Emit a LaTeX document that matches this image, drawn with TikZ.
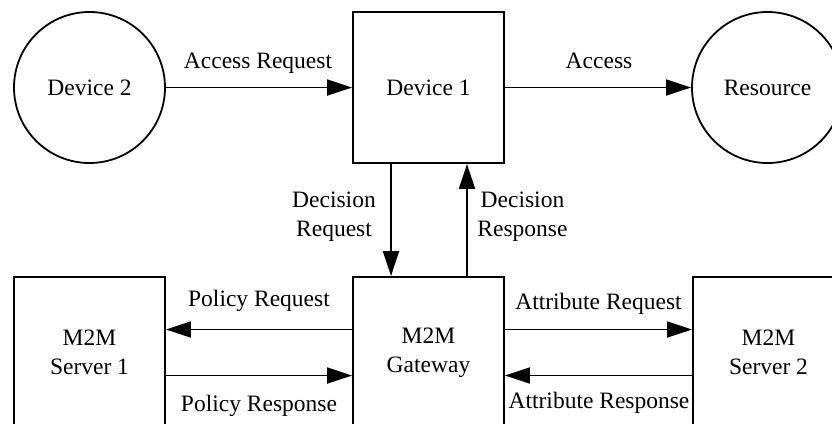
\documentclass[tikz,border=0pt]{standalone}
\usepackage{fontspec}
\setmainfont{Liberation Serif}
\usetikzlibrary{arrows.meta}
\begin{document}
\begin{tikzpicture}[x=1bp,y=-1bp,
  every node/.style={font=\fontsize{23.5bp}{29bp}\selectfont},
  roundnode/.style={draw, circle, line width=1.8bp, minimum size=151bp, inner sep=0pt},
  boxnode/.style={draw, rectangle, line width=1.8bp, minimum width=151bp, minimum height=151bp, inner sep=0pt, align=center},
  conn/.style={line width=1.8bp, -{Triangle[length=25bp,width=16bp]}},
  lbl/.style={inner sep=0pt, anchor=base},
  lbl2/.style={inner sep=0pt, align=center},
]
\useasboundingbox (0,0) rectangle (832,423);
\clip (0,0) rectangle (832,423);

\node[roundnode] (d2) at (89.5,87.5) {Device 2};
\node[boxnode] (d1) at (428.5,87.5) {Device 1};
\node[roundnode] (res) at (767.5,87.5) {Resource};
\node[boxnode] (s1) at (89.5,352.5) {M2M\\Server 1};
\node[boxnode] (gw) at (428.5,352.5) {M2M\\Gateway};
\node[boxnode] (s2) at (768.5,352.5) {M2M\\Server 2};

\draw[conn] (d2) -- (d1);
\draw[conn] (d1) -- (res);
\draw[conn] ([xshift=-37.5bp]d1.south) -- ([xshift=-37.5bp]gw.north);
\draw[conn] ([xshift=38.5bp]gw.north) -- ([xshift=38.5bp]d1.south);
\draw[conn] ([yshift=23bp]gw.west) -- ([yshift=23bp]s1.east);
\draw[conn] ([yshift=-23bp]s1.east) -- ([yshift=-23bp]gw.west);
\draw[conn] ([yshift=23bp]gw.east) -- ([yshift=23bp]s2.west);
\draw[conn] ([yshift=-23bp]s2.west) -- ([yshift=-23bp]gw.east);

\node[lbl] (lar) at (258,68) {Access Request};
\node[lbl] (lac) at (599,68) {Access};
\node[lbl2] (ldq) at (334,217) {Decision\\Request};
\node[lbl2] (lds) at (522.5,217) {Decision\\Response};
\node[lbl] (lpq) at (259,306) {Policy Request};
\node[lbl] (lps) at (259,411) {Policy Response};
\node[lbl] (laq) at (598.5,309) {Attribute Request};
\node[lbl] (las) at (599,408) {Attribute Response};
\end{tikzpicture}
\end{document}
